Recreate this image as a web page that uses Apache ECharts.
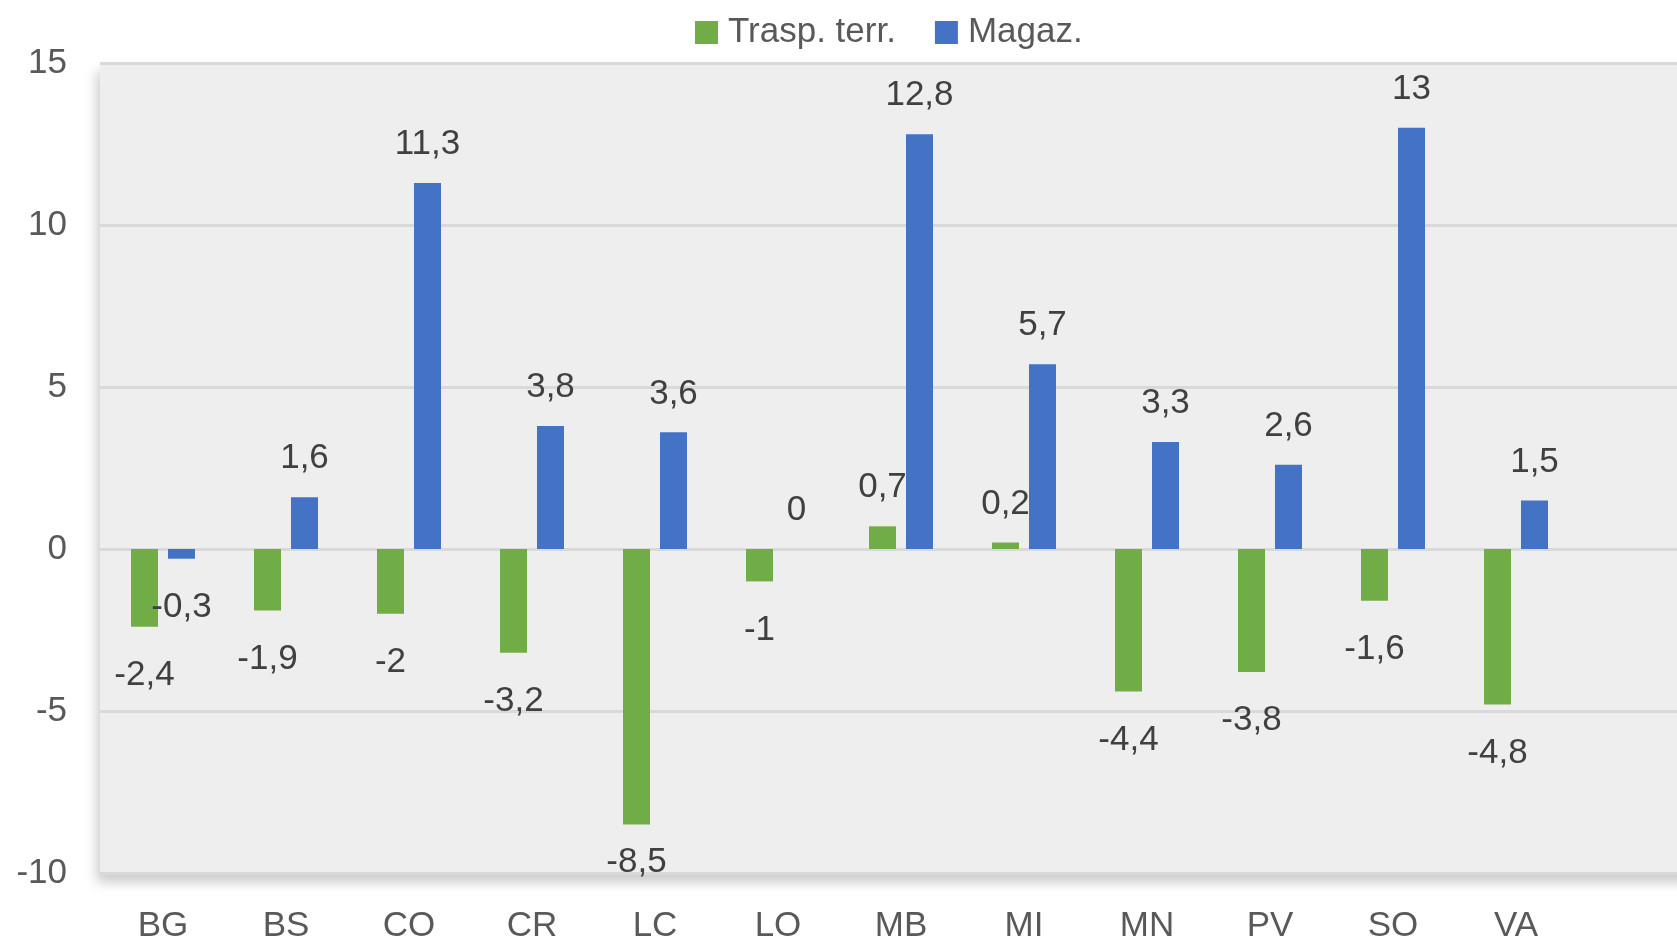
<!DOCTYPE html>
<html>
<head>
<meta charset="utf-8">
<script src="https://cdn.jsdelivr.net/npm/echarts@6/dist/echarts.min.js"></script>
<style>
html,body{margin:0;padding:0;background:#fff;}
#chart{width:1677px;height:938px;}
</style>
</head>
<body>
<div id="chart"></div>
<script>
const categories = ['BG','BS','CO','CR','LC','LO','MB','MI','MN','PV','SO','VA'];
const traspTerr = [-2.4,-1.9,-2,-3.2,-8.5,-1,0.7,0.2,-4.4,-3.8,-1.6,-4.8];
const magaz = [-0.3,1.6,11.3,3.8,3.6,0,12.8,5.7,3.3,2.6,13,1.5];
const seriesNames = ['Trasp. terr.','Magaz.'];
const yMin = -10, yMax = 15, yStep = 5;

const FONT = 'Liberation Sans, Arial, sans-serif';
const FS = 35;
const gridTop = 63, gridBottom = 65;
const H = 938;
const pxPerUnit = (H - gridTop - gridBottom) / (yMax - yMin);

function fmt(v){ return String(v).replace('.', ','); }

function items(arr){
  return arr.map(v => {
    if (v < 0) {
      const gap = (v - yMin) * pxPerUnit;
      return {value: v, label: {position: 'bottom', distance: Math.min(31, gap - 28)}};
    }
    return {value: v, label: {position: 'top', distance: 21}};
  });
}

const chart = echarts.init(document.getElementById('chart'));
const labelStyle = {
  show: true,
  fontFamily: FONT,
  fontSize: FS,
  lineHeight: FS,
  color: '#404040',
  formatter: p => fmt(p.value)
};

chart.setOption({
  animation: false,
  textStyle: {fontFamily: FONT},
  legend: {
    data: seriesNames,
    left: 690,
    top: 10,
    icon: 'rect',
    itemWidth: 23,
    itemHeight: 23,
    itemGap: 39,
    textStyle: {fontFamily: FONT, fontSize: FS, color: '#595959', padding: [0,0,0,5]}
  },
  grid: [
    {left: 100, right: -20, top: gridTop, bottom: gridBottom, show: true,
     outerBoundsMode: 'none', containLabel: false,
     backgroundColor: '#eeeeee', borderWidth: 0,
     shadowColor: 'rgba(0,0,0,0.22)', shadowBlur: 12, shadowOffsetX: -3, shadowOffsetY: 9},
    {left: 101.5, right: 99.5, top: gridTop, bottom: gridBottom,
     outerBoundsMode: 'none', containLabel: false}
  ],
  xAxis: [
    {gridIndex: 0, type: 'value', min: 0, max: 1, show: false},
    {gridIndex: 1, type: 'category', data: categories,
     axisLine: {show: false}, axisTick: {show: false},
     axisLabel: {fontFamily: FONT, fontSize: FS, color: '#595959', margin: 36}}
  ],
  yAxis: [
    {gridIndex: 0, type: 'value', min: yMin, max: yMax, interval: yStep,
     axisLine: {show: false}, axisTick: {show: false},
     splitLine: {lineStyle: {color: '#d9d9d9', width: 3}},
     axisLabel: {fontFamily: FONT, fontSize: FS, color: '#595959', margin: 33, padding: [6,0,0,0]}},
    {gridIndex: 1, type: 'value', min: yMin, max: yMax, interval: yStep, show: false,
     splitLine: {show: false}}
  ],
  series: [
    {name: seriesNames[0], type: 'bar', xAxisIndex: 1, yAxisIndex: 1, z: 2,
     barWidth: 27, barGap: '37%',
     itemStyle: {color: '#70ad47'},
     label: labelStyle,
     data: items(traspTerr)},
    {name: seriesNames[1], type: 'bar', xAxisIndex: 1, yAxisIndex: 1, z: 3,
     barWidth: 27, barGap: '37%',
     itemStyle: {color: '#4472c4'},
     label: labelStyle,
     data: items(magaz)}
  ]
});
</script>
</body>
</html>
